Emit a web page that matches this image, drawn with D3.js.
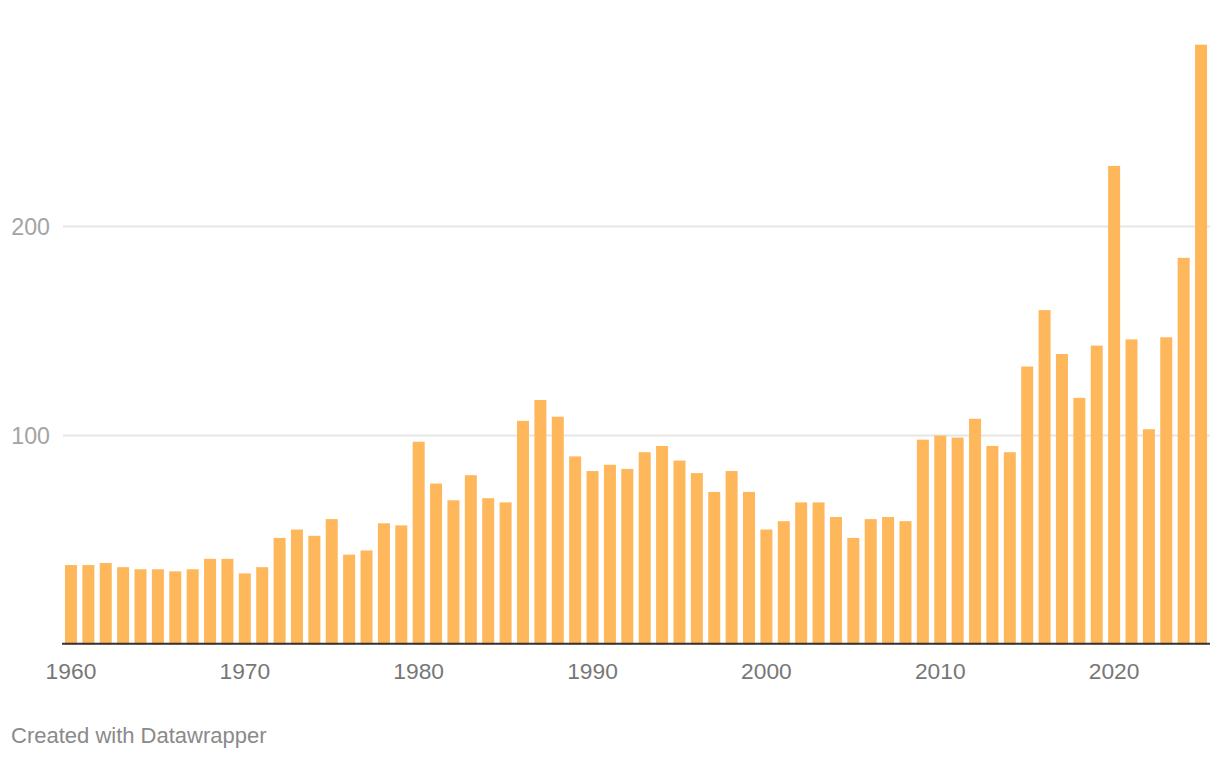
<!DOCTYPE html>
<html>
<head>
<meta charset="utf-8">
<script src="https://cdn.jsdelivr.net/npm/d3@7"></script>
<style>
  html, body { margin: 0; padding: 0; background: #fff; }
  svg { display: block; font-family: "Liberation Sans", Arial, Helvetica, sans-serif; }
</style>
</head>
<body>
<svg id="chart" width="1220" height="758"></svg>
<script>
const years = d3.range(1960, 2026);
const values = [
  38, 38, 39, 37, 36, 36, 35, 36, 41, 41,
  34, 37, 51, 55, 52, 60, 43, 45, 58, 57,
  97, 77, 69, 81, 70, 68, 107, 117, 109, 90,
  83, 86, 84, 92, 95, 88, 82, 73, 83, 73,
  55, 59, 68, 68, 61, 51, 60, 61, 59, 98,
  100, 99, 108, 95, 92, 133, 160, 139, 118, 143,
  229, 146, 103, 147, 185, 287
];
const yTicks = [100, 200];
const xTicks = [1960, 1970, 1980, 1990, 2000, 2010, 2020];
const footer = "Created with Datawrapper";

const data = years.map((y, i) => ({ year: y, value: values[i] }));

const svg = d3.select("#chart");
const left = 62, right = 1210;
const x = d3.scaleBand().domain(years).range([left, right]).paddingInner(0.31).paddingOuter(0.17);
const y = d3.scaleLinear().domain([0, 300]).range([644.5, 17.5]);

// gridlines
svg.append("g").selectAll("line").data(yTicks).join("line")
  .attr("x1", left + 1).attr("x2", right)
  .attr("y1", d => y(d)).attr("y2", d => y(d))
  .attr("stroke", "#e6e6e6").attr("stroke-width", 2);

// y labels
svg.append("g").selectAll("text").data(yTicks).join("text")
  .attr("x", 50).attr("y", d => y(d))
  .attr("dy", "0.35em")
  .attr("text-anchor", "end")
  .attr("font-size", 23.2)
  .attr("fill", "#a3a3a3")
  .text(d => d);

// bars
svg.append("g").selectAll("rect").data(data).join("rect")
  .attr("x", d => x(d.year))
  .attr("width", x.bandwidth())
  .attr("y", d => y(d.value))
  .attr("height", d => y(0) - y(d.value))
  .attr("fill", "#feb75b");

// baseline axis
svg.append("line")
  .attr("x1", left).attr("x2", right)
  .attr("y1", 643.7).attr("y2", 643.7)
  .attr("stroke", "#333").attr("stroke-width", 2);

// x labels
svg.append("g").selectAll("text").data(xTicks).join("text")
  .attr("x", d => x(d) + x.bandwidth() / 2)
  .attr("y", 679)
  .attr("text-anchor", "middle")
  .attr("font-size", 22.8)
  .attr("fill", "#777")
  .text(d => d);

// footer
svg.append("text")
  .attr("x", 11).attr("y", 743)
  .attr("font-size", 22)
  .attr("fill", "#8a8a8a")
  .text(footer);
</script>
</body>
</html>
